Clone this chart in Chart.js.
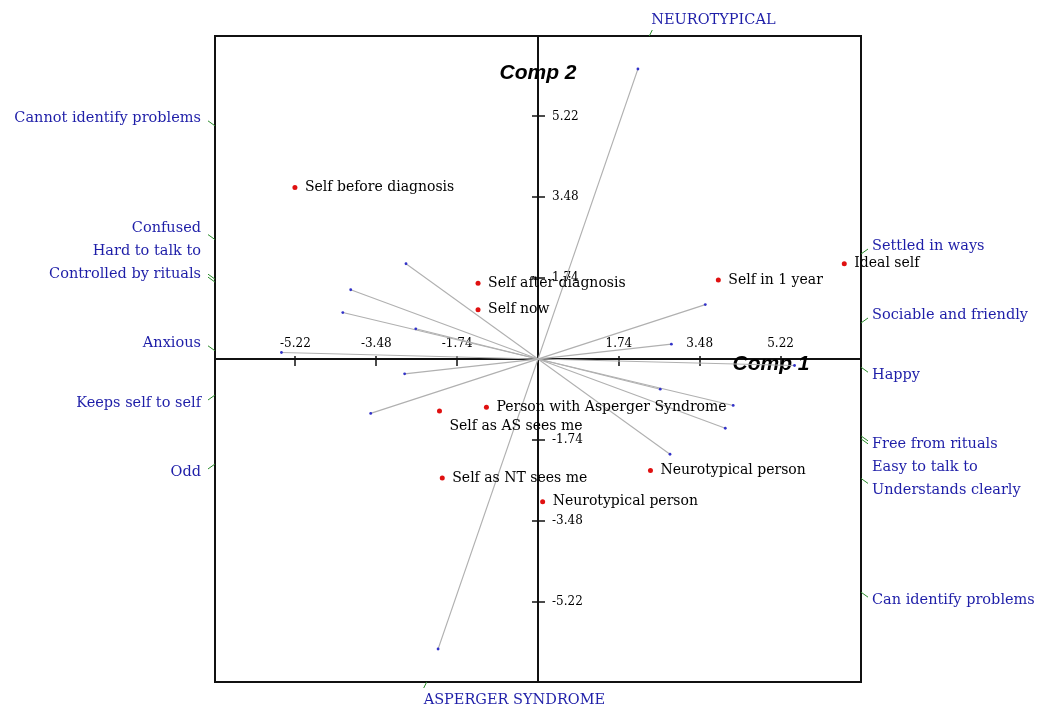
<!DOCTYPE html>
<html>
<head>
<meta charset="utf-8">
<script src="https://cdn.jsdelivr.net/npm/chart.js@4.4.1/dist/chart.umd.min.js"></script>
<style>
  html, body { margin: 0; padding: 0; background: #fff; }
</style>
</head>
<body>
<canvas id="grafico" width="1038" height="709"></canvas>
<script>
// elements (red points)
var elementos = ['Self before diagnosis', 'Self after diagnosis', 'Self now', 'Self in 1 year', 'Ideal self',
  'Person with Asperger Syndrome', 'Self as AS sees me', 'Self as NT sees me', 'Neurotypical person', 'Neurotypical person'];
var elemX = [-5.23, -1.29, -1.29, 3.88, 6.59, -1.11, -2.12, -2.06, 2.42, 0.10];
var elemY = [3.69, 1.63, 1.06, 1.70, 2.05, -1.04, -1.12, -2.56, -2.40, -3.07];

// constructs: pole A at (cargaX, cargaY), pole B at the opposite end
var poloA = ['Cannot identify problems', 'Confused', 'Hard to talk to', 'Controlled by rituals',
  'Anxious', 'Keeps self to self', 'Odd', 'NEUROTYPICAL'];
var poloB = ['Can identify problems', 'Understands clearly', 'Easy to talk to', 'Free from rituals',
  'Happy', 'Sociable and friendly', 'Settled in ways', 'ASPERGER SYNDROME'];
var cargaX = [-2.84, -4.03, -2.63, -4.20, -5.52, -2.87, -3.60, 2.15];
var cargaY = [2.05, 1.49, 0.65, 1.00, 0.14, -0.32, -1.17, 6.24];

var marcas = [-5.22, -3.48, -1.74, 1.74, 3.48, 5.22];
var limite = 6.95;

function montaDatasets() {
  var datasets = [];

  datasets.push({
    label: 'Elements',
    data: elementos.map(function(n, i) { return { x: elemX[i], y: elemY[i] }; }),
    pointRadius: 2.5,
    pointBackgroundColor: '#e01010',
    pointBorderWidth: 0,
    showLine: false
  });

  poloA.forEach(function(nome, i) {
    datasets.push({
      label: nome,
      data: [{ x: cargaX[i], y: cargaY[i] }, { x: -cargaX[i], y: -cargaY[i] }],
      showLine: true,
      borderColor: '#b0b0b0',
      borderWidth: 1.1,
      pointRadius: 1.4,
      pointBackgroundColor: '#3232c8',
      pointBorderWidth: 0
    });
  });

  return datasets;
}

function desenhaEixos(chart) {
  var ctx = chart.ctx;
  var a = chart.chartArea;
  var sx = chart.scales.x, sy = chart.scales.y;
  var x0 = Math.round(sx.getPixelForValue(0)), y0 = Math.round(sy.getPixelForValue(0));

  ctx.save();
  ctx.strokeStyle = '#111';
  ctx.lineWidth = 2;
  ctx.strokeRect(a.left, a.top, a.right - a.left, a.bottom - a.top);

  ctx.beginPath();
  ctx.moveTo(a.left, y0);
  ctx.lineTo(a.right, y0);
  ctx.moveTo(x0, a.top);
  ctx.lineTo(x0, a.bottom);
  ctx.stroke();

  ctx.lineWidth = 1.5;
  ctx.beginPath();
  marcas.forEach(function(m) {
    var px = Math.round(sx.getPixelForValue(m));
    var py = Math.round(sy.getPixelForValue(m));
    ctx.moveTo(px, y0 - 3);
    ctx.lineTo(px, y0 + 7);
    ctx.moveTo(x0 - 6, py);
    ctx.lineTo(x0 + 7, py);
  });
  ctx.stroke();

  ctx.fillStyle = '#000';
  ctx.font = '12px "DejaVu Serif"';
  ctx.textBaseline = 'middle';
  ctx.textAlign = 'center';
  marcas.forEach(function(m) {
    ctx.fillText(m.toFixed(2), sx.getPixelForValue(m), y0 - 15);
  });
  ctx.textAlign = 'left';
  marcas.forEach(function(m) {
    ctx.fillText(m.toFixed(2), x0 + 14, sy.getPixelForValue(m));
  });

  ctx.font = 'italic bold 21px "Liberation Sans"';
  ctx.textAlign = 'center';
  ctx.fillText('Comp 2', x0, a.top + 37);
  ctx.fillText('Comp 1', a.right - 90, y0 + 5);
  ctx.restore();
}

function desenhaRotulos(chart) {
  var ctx = chart.ctx;
  var meta = chart.getDatasetMeta(0);
  var ocupados = [];

  ctx.save();
  ctx.fillStyle = '#000';
  ctx.font = '14px "DejaVu Serif"';
  ctx.textAlign = 'left';
  ctx.textBaseline = 'middle';

  elementos.forEach(function(nome, i) {
    var p = meta.data[i];
    var x = p.x + 10, y = p.y;
    var w = ctx.measureText(nome).width;
    while (ocupados.some(function(r) {
      return x < r.x + r.w && x + w > r.x && Math.abs(y - r.y) < 15;
    })) {
      y += 15;
    }
    ocupados.push({ x: x, y: y, w: w });
    ctx.fillText(nome, x, y);
  });
  ctx.restore();
}

function separa(lista, y0) {
  var cima = lista.filter(function(p) { return p.ey < y0; }).sort(function(a, b) { return b.y - a.y; });
  for (var i = 1; i < cima.length; i++) {
    if (cima[i].y > cima[i - 1].y - 23) cima[i].y = cima[i - 1].y - 23;
  }
  var baixo = lista.filter(function(p) { return p.ey >= y0; }).sort(function(a, b) { return a.y - b.y; });
  for (var j = 1; j < baixo.length; j++) {
    if (baixo[j].y < baixo[j - 1].y + 23) baixo[j].y = baixo[j - 1].y + 23;
  }
}

function desenhaPolos(chart) {
  var ctx = chart.ctx;
  var a = chart.chartArea;
  var sx = chart.scales.x, sy = chart.scales.y;
  var y0 = sy.getPixelForValue(0);
  var esq = [], dir = [], topo = [], base = [];

  function adicionaPolo(nome, vx, vy) {
    var t = limite / Math.max(Math.abs(vx), Math.abs(vy));
    var p = { nome: nome, ex: sx.getPixelForValue(vx * t), ey: sy.getPixelForValue(vy * t) };
    if (Math.abs(vx) >= Math.abs(vy)) {
      p.y = p.ey + (p.ey < y0 ? -8 : 8);
      if (vx < 0) esq.push(p); else dir.push(p);
    } else {
      if (vy > 0) topo.push(p); else base.push(p);
    }
  }

  poloA.forEach(function(nome, i) {
    adicionaPolo(nome, cargaX[i], cargaY[i]);
    adicionaPolo(poloB[i], -cargaX[i], -cargaY[i]);
  });

  separa(esq, y0);
  separa(dir, y0);

  ctx.save();
  ctx.strokeStyle = '#2a8a2a';
  ctx.lineWidth = 1;
  ctx.fillStyle = '#1e1ea8';
  ctx.font = '14.5px "DejaVu Serif"';
  ctx.textBaseline = 'middle';

  function puxa(p) {
    return Math.max(-5, Math.min(5, p.y - p.ey));
  }

  ctx.textAlign = 'right';
  esq.forEach(function(p) {
    ctx.beginPath();
    ctx.moveTo(a.left, p.ey);
    ctx.lineTo(a.left - 7, p.ey + puxa(p));
    ctx.stroke();
    ctx.fillText(p.nome, a.left - 14, p.y);
  });

  ctx.textAlign = 'left';
  dir.forEach(function(p) {
    ctx.beginPath();
    ctx.moveTo(a.right, p.ey);
    ctx.lineTo(a.right + 7, p.ey + puxa(p));
    ctx.stroke();
    ctx.fillText(p.nome, a.right + 11, p.y);
  });

  topo.forEach(function(p) {
    ctx.beginPath();
    ctx.moveTo(p.ex, a.top);
    ctx.lineTo(p.ex + 3, a.top - 6);
    ctx.stroke();
    ctx.fillText(p.nome, p.ex + 2, a.top - 16);
  });

  base.forEach(function(p) {
    ctx.beginPath();
    ctx.moveTo(p.ex, a.bottom);
    ctx.lineTo(p.ex - 3, a.bottom + 6);
    ctx.stroke();
    ctx.fillText(p.nome, p.ex - 3, a.bottom + 18);
  });
  ctx.restore();
}

var desenhos = {
  id: 'desenhos',
  beforeDatasetsDraw: function(chart) {
    desenhaEixos(chart);
  },
  afterDatasetsDraw: function(chart) {
    desenhaRotulos(chart);
    desenhaPolos(chart);
  }
};

var grafico = new Chart(document.getElementById('grafico').getContext('2d'), {
  type: 'scatter',
  data: { datasets: montaDatasets() },
  options: {
    responsive: false,
    animation: false,
    devicePixelRatio: 1,
    layout: { padding: { left: 215, right: 177, top: 36, bottom: 27 } },
    plugins: {
      legend: { display: false },
      tooltip: { enabled: false }
    },
    scales: {
      x: { type: 'linear', min: -limite, max: limite, display: false },
      y: { type: 'linear', min: -limite, max: limite, display: false }
    }
  },
  plugins: [desenhos]
});
</script>
</body>
</html>
